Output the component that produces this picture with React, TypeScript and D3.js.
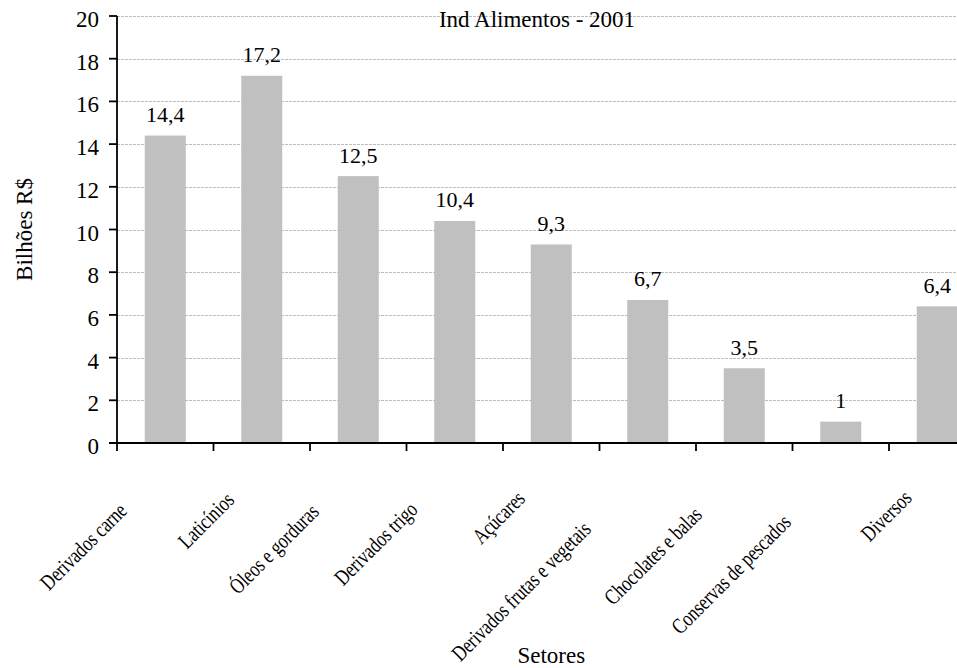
import React, { useEffect, useRef } from "react";
import * as d3 from "d3";

// Sector revenue of the Brazilian food industry, 2001 (billions of R$)
const categories = [
  "Derivados carne",
  "Laticínios",
  "Óleos e gorduras",
  "Derivados trigo",
  "Açúcares",
  "Derivados frutas e vegetais",
  "Chocolates e balas",
  "Conservas de pescados",
  "Diversos",
];
const values = [14.4, 17.2, 12.5, 10.4, 9.3, 6.7, 3.5, 1, 6.4];
const yTicks = [0, 2, 4, 6, 8, 10, 12, 14, 16, 18, 20];

const chartTitle = "Ind Alimentos - 2001";
const yTitle = "Bilhões R$";
const xTitle = "Setores";

const W = 957;
const H = 668;
const FONT = "Liberation Serif, DejaVu Serif, serif";

const fmt = (v: number) => String(v).replace(".", ",");

export default function App() {
  const ref = useRef<SVGSVGElement>(null);

  useEffect(() => {
    const svg = d3.select(ref.current!);
    svg.selectAll("*").remove();

    const left = 117;
    const top = 16;
    const bottom = 443;
    const x = d3
      .scaleBand<string>()
      .domain(categories)
      .range([left, 985.5])
      .paddingInner(0.575)
      .paddingOuter(0.2875);
    const y = d3.scaleLinear().domain([0, 20]).range([bottom, top]);

    const g = svg.append("g").style("font-family", FONT).attr("fill", "#000");

    // horizontal dashed grid
    g.append("g")
      .selectAll("line")
      .data(yTicks.filter((t) => t > 0))
      .join("line")
      .attr("x1", left)
      .attr("x2", W)
      .attr("y1", (d) => Math.round(y(d)) + 0.5)
      .attr("y2", (d) => Math.round(y(d)) + 0.5)
      .attr("stroke", "#bdbdbd")
      .attr("stroke-width", 1)
      .attr("stroke-dasharray", "3,1");

    // bars
    g.append("g")
      .selectAll("rect")
      .data(values)
      .join("rect")
      .attr("x", (_, i) => x(categories[i])!)
      .attr("width", x.bandwidth())
      .attr("y", (d) => y(d))
      .attr("height", (d) => y(0) - y(d))
      .attr("fill", "#c0c0c0");

    // value labels
    g.append("g")
      .selectAll("text")
      .data(values)
      .join("text")
      .attr("x", (_, i) => x(categories[i])! + x.bandwidth() / 2)
      .attr("y", (d) => y(d) - 13.5)
      .attr("text-anchor", "middle")
      .attr("font-size", 22)
      .text((d) => fmt(d));

    // y axis
    const yAxis = g.append("g");
    yAxis
      .append("line")
      .attr("x1", left)
      .attr("x2", left)
      .attr("y1", y(20))
      .attr("y2", y(0))
      .attr("stroke", "#000")
      .attr("stroke-width", 1.8);
    yAxis
      .selectAll("line.tick")
      .data(yTicks)
      .join("line")
      .attr("class", "tick")
      .attr("x1", left - 8)
      .attr("x2", left)
      .attr("y1", (d) => y(d))
      .attr("y2", (d) => y(d))
      .attr("stroke", "#000")
      .attr("stroke-width", 1.8);
    yAxis
      .selectAll("text")
      .data(yTicks)
      .join("text")
      .attr("x", left - 18)
      .attr("y", (d) => y(d) + 11)
      .attr("text-anchor", "end")
      .attr("font-size", 23)
      .text((d) => String(d));

    // x axis with ticks at band boundaries
    const [r0, r1] = x.range();
    const bounds = d3.range(categories.length + 1).map((i) => r0 + i * x.step());
    const xAxis = g.append("g");
    xAxis
      .append("line")
      .attr("x1", left - 8)
      .attr("x2", r1)
      .attr("y1", y(0))
      .attr("y2", y(0))
      .attr("stroke", "#000")
      .attr("stroke-width", 1.8);
    xAxis
      .selectAll("line.tick")
      .data(bounds)
      .join("line")
      .attr("class", "tick")
      .attr("x1", (d) => d)
      .attr("x2", (d) => d)
      .attr("y1", y(0))
      .attr("y2", y(0) + 8)
      .attr("stroke", "#000")
      .attr("stroke-width", 1.8);

    // rotated, condensed category labels
    const squeeze = 0.78;
    xAxis
      .selectAll("text")
      .data(categories)
      .join("text")
      .attr("font-size", 22)
      .attr("text-anchor", "end")
      .attr(
        "transform",
        (d) =>
          `translate(${x(d)! + x.bandwidth() / 2 - 9},484) rotate(-45) scale(${squeeze},1)`
      )
      .text((d) => d)
      .each(function () {
        const el = this as SVGTextElement;
        const n = el.getComputedTextLength();
        d3.select(el).attr("x", -0.354 * n);
      });

    // titles
    g.append("text")
      .attr("x", (left + W) / 2)
      .attr("y", 27)
      .attr("text-anchor", "middle")
      .attr("font-size", 23)
      .text(chartTitle);

    g.append("text")
      .attr("transform", `translate(32,${(y(0) + y(20)) / 2}) rotate(-90)`)
      .attr("text-anchor", "middle")
      .attr("font-size", 23)
      .text(yTitle);

    g.append("text")
      .attr("x", (r0 + r1) / 2)
      .attr("y", 663)
      .attr("text-anchor", "middle")
      .attr("font-size", 23)
      .text(xTitle);
  }, []);

  return (
    <svg
      ref={ref}
      width={W}
      height={H}
      style={{ position: "absolute", left: 0, top: 0, background: "#fff" }}
    />
  );
}
